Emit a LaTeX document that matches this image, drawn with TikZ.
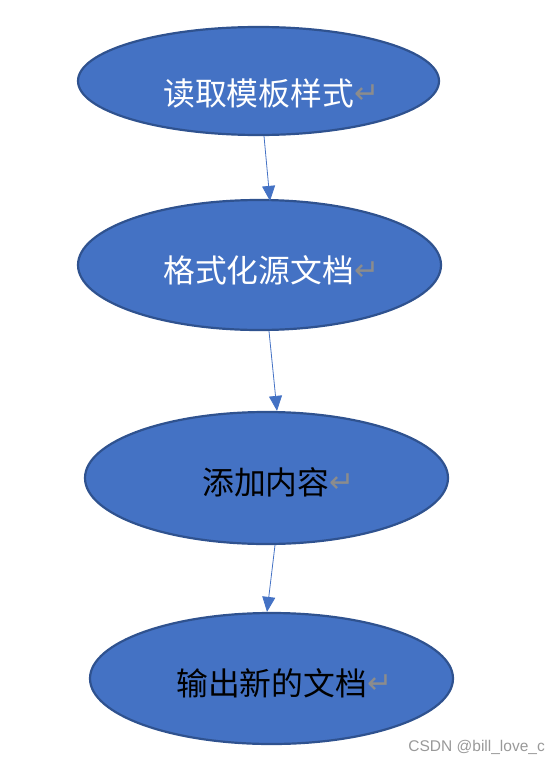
\documentclass[tikz,border=0pt]{standalone}
\usepackage{fontspec}
\setmainfont{Noto Sans CJK SC}
\newfontfamily\retfont{DejaVu Sans}
\newfontfamily\markfont{Liberation Sans}
\usetikzlibrary{shapes.geometric,arrows.meta}
\definecolor{stepfill}{HTML}{4472C4}
\definecolor{stepline}{HTML}{2F528F}
\definecolor{retgray}{HTML}{8C8C8C}
\newcommand{\ret}{{\retfont\color{retgray}\fontsize{30bp}{32bp}\selectfont\raisebox{2bp}{↵}}}

\begin{document}
\begin{tikzpicture}[x=1bp,y=-1bp,
	stepbox/.style={ellipse,draw=stepline,fill=stepfill,line width=2.2bp,inner sep=0pt},
	steptext/.style={anchor=base west,inner sep=0pt,font=\fontsize{31.8bp}{36bp}\selectfont},
	flow/.style={draw=stepfill,line width=0.8bp,-{Triangle[length=15bp,width=13bp]}}]
			\useasboundingbox (0,0) rectangle (559,766);
			
			\node[stepbox,minimum width=361bp,minimum height=108bp] (read) at (258.5,81) {};
			\node[stepbox,minimum width=363bp,minimum height=130bp] (format) at (259.5,265) {};
			\node[stepbox,minimum width=363bp,minimum height=132bp] (add) at (266.5,478) {};
			\node[stepbox,minimum width=363bp,minimum height=131bp] (output) at (271.5,678.5) {};
			
			\node[steptext,text=white] (readtxt) at (163,105) {读取模板样式\ret};
			\node[steptext,text=white] (formattxt) at (163,282) {格式化源文档\ret};
			\node[steptext,text=black] (addtxt) at (202,494) {添加内容\ret};
			\node[steptext,text=black] (outputtxt) at (176,695) {输出新的文档\ret};
			
			\draw[flow] ([xshift=5.5bp]read.south) -- ([xshift=10.5bp,yshift=-2bp]format.north);
			\draw[flow] ([xshift=9.5bp]format.south) -- ([xshift=10.5bp]add.north);
			\draw[flow] ([xshift=8.5bp]add.south) -- ([xshift=-4.5bp]output.north);
			
			\node[anchor=east,inner sep=0pt,text=black!40,font=\markfont\fontsize{15.5bp}{17bp}\selectfont] (mark) at (545,747) {CSDN @bill\_love\_c};
\end{tikzpicture}
\end{document}
